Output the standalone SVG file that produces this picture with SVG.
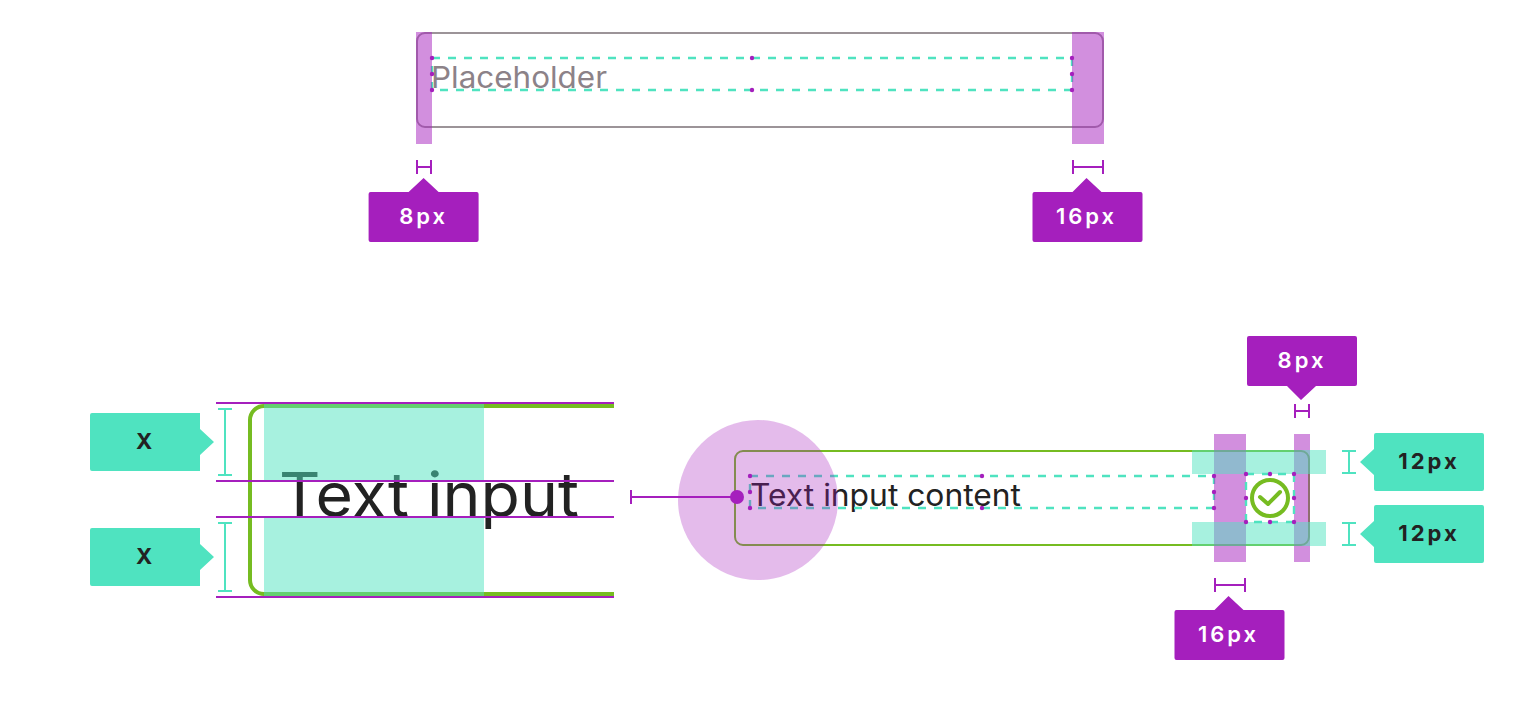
<svg xmlns="http://www.w3.org/2000/svg" width="1520" height="724" viewBox="0 0 1520 724">
<defs><style>
.strip{fill:#a51fbd;fill-opacity:.5}
.band{fill:#4fe3c0;fill-opacity:.5}
.dash{fill:none;stroke:#4fe3c0;stroke-width:2.4;stroke-dasharray:8 8}
.dot{fill:#a51fbd}
.pm{fill:none;stroke:#a51fbd;stroke-width:2}
.tm{fill:none;stroke:#4fe3c0;stroke-width:2}
.pl{fill:#a51fbd}
.tl{fill:#4fe3c0}
.lab{font-family:Inter,"Liberation Sans",sans-serif;font-size:22px;font-weight:600;letter-spacing:3px;text-anchor:middle}
.w{fill:#fff}
.d{fill:#222;font-weight:700}
.sans{font-family:Inter,"Liberation Sans",sans-serif}
</style></defs>
<rect width="1520" height="724" fill="#fff"/>

<g id="top-input">
<rect x="417" y="33" width="686" height="94" rx="8" fill="#fff" stroke="#9c9498" stroke-width="2"/>
<text class="sans" x="431" y="88" font-size="30" fill="#8c8288" textLength="176" lengthAdjust="spacingAndGlyphs">Placeholder</text>
<rect class="dash" x="432" y="58" width="640" height="32"/>
<rect class="strip" x="416" y="32" width="16" height="112"/>
<rect class="strip" x="1072" y="32" width="32" height="112"/>
<g class="dot"><circle cx="432" cy="58" r="2.2"/><circle cx="432" cy="74" r="2.2"/><circle cx="432" cy="90" r="2.2"/><circle cx="752" cy="58" r="2.2"/><circle cx="752" cy="90" r="2.2"/><circle cx="1072" cy="58" r="2.2"/><circle cx="1072" cy="74" r="2.2"/><circle cx="1072" cy="90" r="2.2"/></g>
</g>

<g id="zoom-detail">
<path d="M614 406H264A14 14 0 0 0 250 420V580A14 14 0 0 0 264 594H614" fill="none" stroke="#76bc21" stroke-width="4"/>
<text class="sans" x="279" y="517" font-size="62" fill="#222" textLength="300" lengthAdjust="spacingAndGlyphs">Text input</text>
<rect class="band" x="264" y="404" width="220" height="76"/>
<rect class="band" x="264" y="518" width="220" height="78"/>
<g class="pm"><path d="M216 403H614M216 481H614M216 517H614M216 597H614"/></g>
</g>

<g id="input-field">
<rect x="735" y="451" width="574" height="94" rx="8" fill="#fff" stroke="#76bc21" stroke-width="2"/>
<text class="sans" x="750" y="506" font-size="31" fill="#222" textLength="271" lengthAdjust="spacingAndGlyphs">Text input content</text>
<rect class="dash" x="750" y="476" width="464" height="32"/>
<g class="dot"><circle cx="750" cy="476" r="2.2"/><circle cx="750" cy="492" r="2.2"/><circle cx="750" cy="508" r="2.2"/><circle cx="982" cy="476" r="2.2"/><circle cx="982" cy="508" r="2.2"/><circle cx="1214" cy="476" r="2.2"/><circle cx="1214" cy="492" r="2.2"/><circle cx="1214" cy="508" r="2.2"/></g>
<circle cx="758" cy="500" r="80" fill="#a51fbd" fill-opacity=".3"/>
</g>

<g id="spacing-overlays">
<rect class="strip" x="1214" y="434" width="32" height="128"/>
<rect class="strip" x="1294" y="434" width="16" height="128"/>
<rect class="band" x="1192" y="450" width="134" height="24"/>
<rect class="band" x="1192" y="522" width="134" height="24"/>
</g>

<g id="check-icon">
<rect x="1246" y="474" width="48" height="48" fill="#fff"/>
<rect class="dash" x="1246" y="474" width="48" height="48"/>
<circle cx="1270" cy="498" r="18" fill="none" stroke="#76bc21" stroke-width="4"/>
<path d="M1260 497L1268 504L1280 492" fill="none" stroke="#76bc21" stroke-width="4" stroke-linecap="round" stroke-linejoin="round"/>
<g class="dot"><circle cx="1246" cy="474" r="2.2"/><circle cx="1270" cy="474" r="2.2"/><circle cx="1294" cy="474" r="2.2"/><circle cx="1246" cy="498" r="2.2"/><circle cx="1294" cy="498" r="2.2"/><circle cx="1246" cy="522" r="2.2"/><circle cx="1270" cy="522" r="2.2"/><circle cx="1294" cy="522" r="2.2"/></g>
</g>

<g id="connectors">
<path class="pm" d="M417 160V174M431 160V174M417 167H431"/>
<path class="pm" d="M1073 160V174M1103 160V174M1073 167H1103"/>
<path class="pm" d="M1295 404V418M1309 404V418M1295 411H1309"/>
<path class="pm" d="M1215 578V592M1245 578V592M1215 585H1245"/>
<path class="tm" d="M218 409H232M218 475H232M225 409V475"/>
<path class="tm" d="M218 523H232M218 591H232M225 523V591"/>
<path class="tm" d="M1342 451H1356M1342 473H1356M1349 451V473"/>
<path class="tm" d="M1342 523H1356M1342 545H1356M1349 523V545"/>
<path class="pm" d="M631 490V504M631 497H737"/>
<circle class="dot" cx="737" cy="497" r="7"/>
</g>

<g id="label-8px-top" transform="translate(-.4 0)"><path class="pl" d="M371 192H409L424 178L439 192H477Q479 192 479 194V240Q479 242 477 242H371Q369 242 369 240V194Q369 192 371 192Z"/><text class="lab w" x="424" y="224">8px</text></g>
<g id="label-16px-top" transform="translate(-.5 0)"><path class="pl" d="M1035 192H1073L1087 178L1102 192H1141Q1143 192 1143 194V240Q1143 242 1141 242H1035Q1033 242 1033 240V194Q1033 192 1035 192Z"/><text class="lab w" x="1087" y="224">16px</text></g>
<g id="label-x-1"><path class="tl" d="M92 413H200V429L214 442L200 455V471H92Q90 471 90 469V415Q90 413 92 413Z"/><text class="lab d" x="144" y="449" style="letter-spacing:0">X</text></g>
<g id="label-x-2"><path class="tl" d="M92 528H200V544L214 557L200 570V586H92Q90 586 90 584V530Q90 528 92 528Z"/><text class="lab d" x="144" y="564" style="letter-spacing:0">X</text></g>
<g id="label-8px-right"><path class="pl" d="M1249 336H1355Q1357 336 1357 338V384Q1357 386 1355 386H1316L1301 400L1287 386H1249Q1247 386 1247 384V338Q1247 336 1249 336Z"/><text class="lab w" x="1302" y="368">8px</text></g>
<g id="label-16px-bottom" transform="translate(-.5 0)"><path class="pl" d="M1177 610H1215L1229 596L1244 610H1283Q1285 610 1285 612V658Q1285 660 1283 660H1177Q1175 660 1175 658V612Q1175 610 1177 610Z"/><text class="lab w" x="1229" y="642">16px</text></g>
<g id="label-12px-1"><path class="tl" d="M1376 433H1482Q1484 433 1484 435V489Q1484 491 1482 491H1376Q1374 491 1374 489V475L1360 462L1374 449V435Q1374 433 1376 433Z"/><text class="lab d" x="1429" y="469">12px</text></g>
<g id="label-12px-2"><path class="tl" d="M1376 505H1482Q1484 505 1484 507V561Q1484 563 1482 563H1376Q1374 563 1374 561V547L1360 534L1374 521V507Q1374 505 1376 505Z"/><text class="lab d" x="1429" y="541">12px</text></g>
</svg>
